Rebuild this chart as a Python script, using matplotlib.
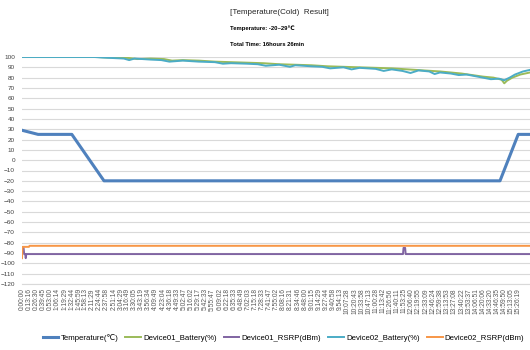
import matplotlib
matplotlib.use('Agg')
import matplotlib.pyplot as plt
import numpy as np

# x tick labels (h:mm:ss)
tick_labels = [
    '0:00:00', '0:13:16', '0:26:30', '0:39:45', '0:53:00', '1:06:14',
    '1:19:29', '1:32:44', '1:45:59', '1:58:13', '2:11:29', '2:24:44',
    '2:37:58', '2:51:14', '3:04:29', '3:16:49', '3:30:05', '3:43:19',
    '3:56:34', '4:09:49', '4:23:04', '4:36:18', '4:49:33', '5:02:47',
    '5:16:02', '5:29:17', '5:42:33', '5:55:47', '6:09:02', '6:22:18',
    '6:35:33', '6:48:49', '7:02:03', '7:15:18', '7:28:33', '7:41:47',
    '7:55:02', '8:08:16', '8:21:31', '8:34:46', '8:48:00', '9:01:15',
    '9:14:29', '9:27:44', '9:40:58', '9:54:13', '10:07:28', '10:20:43',
    '10:33:58', '10:47:13', '11:00:28', '11:13:42', '11:26:56', '11:40:11',
    '11:53:25', '12:06:40', '12:19:55', '12:33:09', '12:46:24', '12:59:38',
    '13:13:53', '13:27:08', '13:40:22', '13:53:37', '14:06:51', '14:20:06',
    '14:33:20', '14:46:35', '14:59:50', '15:13:05', '15:26:19']

# times in minutes
temp_t = [0, 30, 93, 153, 892, 926, 948]
temp_v = [29, 25, 25, -20, -20, 25, 25]

bat2_t = [0, 135, 150, 170, 190, 200, 210, 240, 260, 275, 300, 315, 330,
          360, 375, 390, 420, 440, 455, 480, 500, 510, 540, 560, 575, 600,
          615, 630, 660, 675, 690, 710, 725, 740, 760, 770, 780, 800, 815,
          830, 845, 860, 875, 890, 900, 910, 920, 935, 948]
bat2_v = [100, 100, 99.5, 99, 98.5, 97, 98.5, 97.5, 97, 95.5, 96.5, 96,
          95.5, 95, 93.5, 94, 93.5, 93, 91.5, 92.5, 90.5, 92, 91, 90.5, 89,
          90, 88, 89.5, 88.5, 86.5, 88, 86.5, 84.5, 87, 86, 83.5, 85, 84,
          82.5, 83, 81.5, 80, 78.5, 79, 77.5, 80, 83, 86, 87.5]

bat1_t = [0, 140, 160, 180, 200, 215, 240, 265, 280, 300, 330, 360, 390,
          420, 450, 480, 510, 540, 570, 600, 630, 660, 690, 720, 750, 780,
          800, 820, 840, 860, 880, 895, 900, 905, 915, 930, 948]
bat1_v = [100, 100, 99.5, 99.5, 99, 98, 98.5, 98, 96.5, 97, 96.5, 95.5,
          95, 94.5, 94, 93, 92.5, 92, 91, 90.5, 90, 89.5, 89, 88, 87, 86,
          85, 84, 82.5, 81, 80, 78, 74.5, 77, 80, 83, 85]

rsrp1_t = [0, 3, 4, 6, 7, 8, 711, 712, 715, 716, 948]
rsrp1_v = [-85, -85, -91, -91, -95, -91, -91, -85, -85, -91, -91]

rsrp2_t = [0, 1, 13, 14, 948]
rsrp2_v = [-95, -84, -84, -83, -83]

names = ['Temperature(\u2103)', 'Device01_Battery(%)', 'Device01_RSRP(dBm)',
         'Device02_Battery(%)', 'Device02_RSRP(dBm)']


def to_min(s):
    h, m, sec = [int(p) for p in s.split(':')]
    return h * 60 + m + sec / 60.0


plt.rcParams['font.family'] = ['Liberation Sans', 'DejaVu Sans']

fig = plt.figure(figsize=(5.3, 3.5), dpi=100)
ax = fig.add_axes([22 / 530, 1 - 284 / 350, 1 - 22 / 530, 227 / 350])

ax.plot(temp_t, temp_v, color='#4F81BD', lw=2.2, label=names[0], zorder=5)
ax.plot(bat1_t, bat1_v, color='#9BBB59', lw=1.4, label=names[1], zorder=3)
ax.plot(rsrp1_t, rsrp1_v, color='#8064A2', lw=1.4, label=names[2], zorder=4)
ax.plot(bat2_t, bat2_v, color='#4BACC6', lw=1.4, label=names[3], zorder=4)
ax.plot(rsrp2_t, rsrp2_v, color='#F79646', lw=1.4, label=names[4], zorder=4)

ax.set_xlim(0, 948)
ax.set_ylim(-120, 100)
ax.set_yticks(np.arange(-120, 101, 10))
ax.set_xticks([to_min(s) for s in tick_labels])
ax.set_xticklabels(tick_labels, rotation=90)
ax.tick_params(axis='x', labelsize=4.8, length=0, pad=3, colors='#595959')
ax.tick_params(axis='y', labelsize=4.6, length=0, pad=5, colors='#404040')
ax.grid(axis='y', color='#D9D9D9', lw=0.8)
ax.set_axisbelow(True)
for k in ['top', 'right', 'left']:
    ax.spines[k].set_visible(False)
ax.spines['bottom'].set_color('#D9D9D9')

fig.legend(loc='center', bbox_to_anchor=(0.535, 0.035), ncol=5,
           frameon=False, fontsize=5.6, handlelength=2.0, handletextpad=0.3,
           columnspacing=0.9)

fig.text(230 / 530, 1 - 12 / 350, '[Temperature(Cold)  Result]',
         fontsize=5.8, va='center', ha='left', color='#262626')
fig.text(230 / 530, 1 - 28 / 350, 'Temperature: -20~29\u2103',
         fontsize=4.2, fontweight='bold', va='center', ha='left')
fig.text(230 / 530, 1 - 44 / 350, 'Total Time: 16hours 26min',
         fontsize=4.2, fontweight='bold', va='center', ha='left')

fig.savefig('out.png', dpi=100)
